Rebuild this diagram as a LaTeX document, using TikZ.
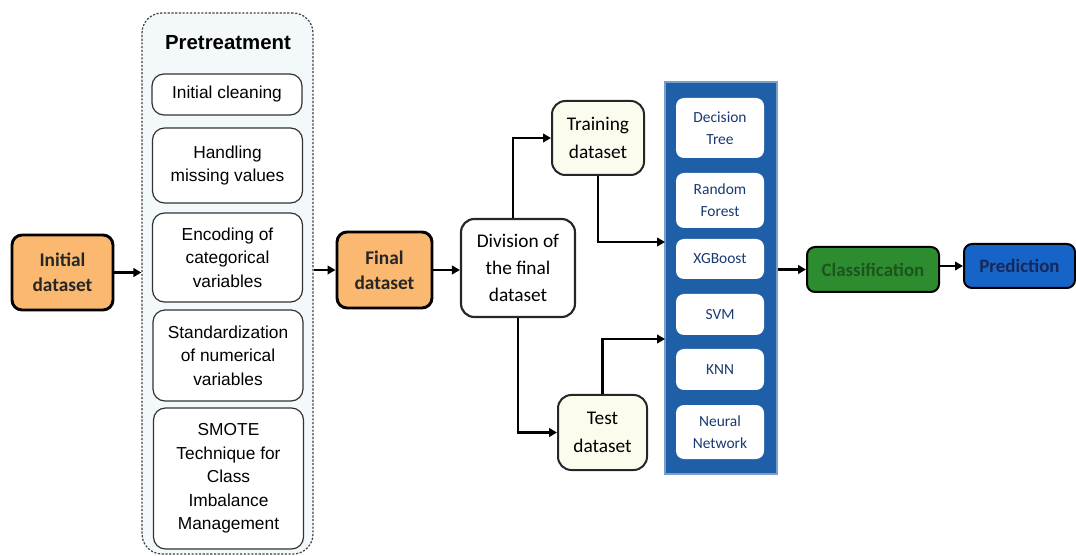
\documentclass[tikz,border=0pt]{standalone}
\usepackage{fontspec}
\setmainfont{Carlito}
\newfontfamily\arialfont{Liberation Sans}
\usetikzlibrary{arrows.meta}

\definecolor{orangebox}{RGB}{250,184,112}
\definecolor{creambox}{RGB}{251,251,238}
\definecolor{pregray}{RGB}{243,248,251}
\definecolor{modelblue}{RGB}{31,95,168}
\definecolor{modeltext}{RGB}{26,58,112}
\definecolor{clsgreen}{RGB}{46,140,48}
\definecolor{clstext}{RGB}{28,84,30}
\definecolor{predblue}{RGB}{22,100,200}
\definecolor{predtext}{RGB}{22,40,90}

\tikzset{
  databox/.style={draw=black, line width=2.2pt, fill=orangebox, rounded corners=7.5pt, align=center, text=black!85, font=\fontsize{14.5}{18.75}\selectfont\bfseries, inner sep=0pt},
  prebox/.style={draw=black!80, line width=0.9pt, fill=white, rounded corners=9pt, align=center, font=\arialfont\fontsize{13}{17.6}\selectfont, minimum width=112.5pt, inner sep=0pt},
  splitbox/.style={draw=black!85, line width=1.5pt, rounded corners=10pt, align=center, font=\fontsize{14.5}{20.5}\selectfont, inner sep=0pt},
  modelbox/.style={fill=white, rounded corners=6pt, align=center, text=modeltext, font=\fontsize{11.6}{16.5}\selectfont, minimum width=66pt, inner sep=0pt},
  resultbox/.style={draw=black, line width=1.5pt, rounded corners=6pt, font=\fontsize{14.2}{17}\selectfont\bfseries, inner sep=0pt},
  flow/.style={-{Triangle[length=6pt,width=6.5pt]}, line width=1.8pt},
}

\begin{document}
\begin{tikzpicture}[x=0.75pt,y=0.75pt,yscale=-1,xscale=1]
\useasboundingbox (0,0) rectangle (1076,556);

%Shape: Rounded Rect [id:init]
\node[databox, minimum width=75.75pt, minimum height=56.25pt] (init) at (62.5,272.5) {Initial\\dataset};

%Shape: Rounded Rect [id:pretreatment frame]
\node[draw=black!75, dash pattern=on 1.6pt off 1.2pt, line width=0.9pt, fill=pregray, rounded corners=15pt, minimum width=128.25pt, minimum height=405.75pt] (pre) at (227.5,283.5) {};
% Text Node
\node[font=\arialfont\fontsize{15.3}{18}\selectfont\bfseries, inner sep=0pt] (pretitle) at (228,43) {Pretreatment};

%Shape: Rounded Rect [id:steps]
\node[prebox, minimum height=30.75pt] (clean) at (227,94.5) {Initial cleaning};
\node[prebox, minimum height=56.25pt] (missing) at (227.5,165.5) {Handling\\missing values};
\node[prebox, minimum height=66.75pt] (encode) at (227.5,257.5) {Encoding of\\categorical\\variables};
\node[prebox, minimum height=68.25pt] (standard) at (228,355.5) {Standardization\\of numerical\\variables};
\node[prebox, minimum height=105.75pt] (smote) at (228.5,478.5) {SMOTE\\Technique for\\Class\\Imbalance\\Management};

%Shape: Rounded Rect [id:final]
\node[databox, minimum width=71.25pt, minimum height=57pt] (final) at (384.5,270) {Final\\dataset};

%Shape: Rounded Rect [id:split]
\node[splitbox, fill=white, line width=1.6pt, minimum width=85.5pt, minimum height=73.5pt] (split) at (518,268) {Division of\\the final\\dataset};
\node[splitbox, fill=creambox, minimum width=69pt, minimum height=55.5pt] (train) at (598,138) {Training\\dataset};
\node[splitbox, fill=creambox, minimum width=66.75pt, minimum height=56.25pt] (test) at (602.5,432.5) {Test\\dataset};

%Shape: Rect [id:models]
\node[draw=modelblue!60!white, line width=1pt, fill=modelblue, minimum width=84pt, minimum height=294pt] (models) at (721,278) {};
\node[modelbox, minimum height=45pt] (dt) at (720,128) {Decision\\Tree};
\node[modelbox, minimum height=41.25pt] (rf) at (720,200.5) {Random\\Forest};
\node[modelbox, minimum height=30pt] (xgb) at (720,259) {XGBoost};
\node[modelbox, minimum height=30.75pt] (svm) at (720,314.5) {SVM};
\node[modelbox, minimum height=30.75pt] (knn) at (720,369.5) {KNN};
\node[modelbox, minimum height=40.5pt] (nn) at (720,432) {Neural\\Network};
\coordinate (inTrain) at (665,242);
\coordinate (inTest) at (665,339);

%Shape: Rounded Rect [id:results]
\node[resultbox, fill=clsgreen, text=clstext, minimum width=99pt, minimum height=33.75pt] (cls) at (873,269.5) {Classification};
\node[resultbox, fill=predblue, text=predtext, minimum width=83.25pt, minimum height=33pt] (pred) at (1019.5,266) {Prediction};

%Straight Lines [id:arrows]
\draw[flow] (init.east) -- (init.east -| pre.west);
\draw[flow] (pre.east |- final.west) -- (final.west);
\draw[flow] (final.east) -- (final.east -| split.west);
\draw[flow] ([xshift=-3.75pt]split.north) |- (train.west);
\draw[flow] (split.south) |- (test.west);
\draw[flow] (train.south) |- (inTrain);
\draw[flow] (test.north) |- (inTest);
\draw[flow] (models.east |- cls.west) -- (cls.west);
\draw[flow] (cls.east |- pred.west) -- (pred.west);

\end{tikzpicture}
\end{document}
